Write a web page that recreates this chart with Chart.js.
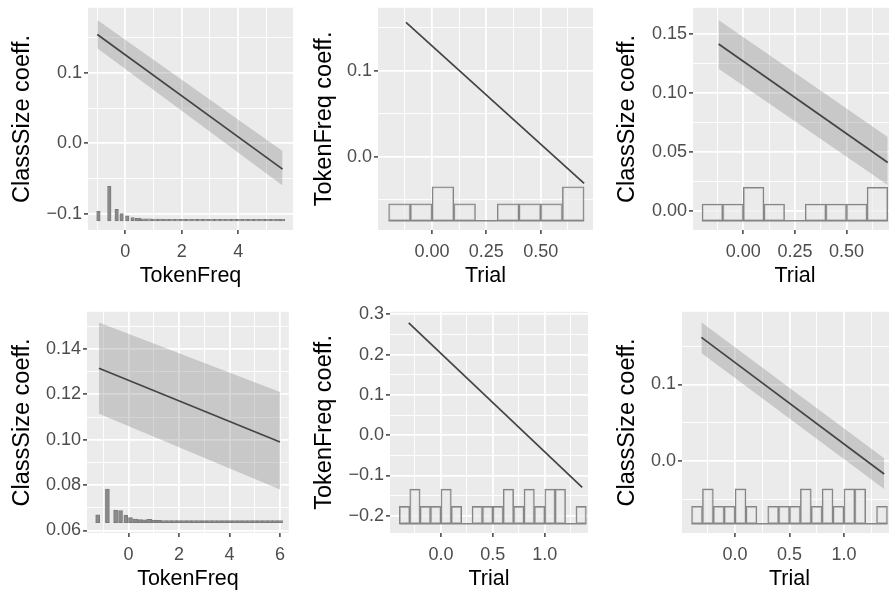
<!DOCTYPE html>
<html>
<head>
<meta charset="utf-8">
<script src="https://cdn.jsdelivr.net/npm/chart.js@4.4.1/dist/chart.umd.min.js"></script>
<style>
  html, body { margin: 0; padding: 0; background: #fff; overflow: hidden; width: 889px; height: 591px; }
  canvas { position: absolute; }
</style>
</head>
<body>
<canvas id="p1"></canvas>
<canvas id="p2"></canvas>
<canvas id="p3"></canvas>
<canvas id="p4"></canvas>
<canvas id="p5"></canvas>
<canvas id="p6"></canvas>
<script>
// ---- data ----

// panel 1: ClassSize coeff. by TokenFreq
const p1LineX = [-0.99, 5.57];
const p1Fit = [0.1545, -0.0366];
const p1Upper = [0.175, -0.011];
const p1Lower = [0.135, -0.060];
const p1HeadX = [-0.95, -0.565, -0.305, -0.13, 0.07, 0.26];
const p1HeadH = [13.7, 49, 16.5, 10.3, 7, 4.7];
const p1TailX = [0.45, 0.65, 0.85, 1.05, 1.25, 1.45, 1.65, 1.85, 2.05, 2.25, 2.45, 2.65, 2.85,
                 3.05, 3.25, 3.45, 3.65, 3.85, 4.05, 4.25, 4.45, 4.65, 4.85, 5.05, 5.25, 5.45, 5.55];
const p1TailH = [3.5, 3, 2.8, 2.6, 2.5, 2.3, 2.2, 2.2, 2.1, 2, 2, 2, 2, 2, 2, 2, 2, 2, 2, 2, 2, 2, 2, 2, 2, 2, 2];

// panel 2: TokenFreq coeff. by Trial
const p2LineX = [-0.12, 0.70];
const p2Fit = [0.1563, -0.0308];

// panel 3: ClassSize coeff. by Trial
const p3LineX = [-0.12, 0.70];
const p3Fit = [0.1415, 0.041];
const p3Upper = [0.1618, 0.0627];
const p3Lower = [0.1204, 0.0218];

// Trial histogram, top row (bin centres, counts)
const trialBinsTop = [-0.15, -0.05, 0.05, 0.15, 0.25, 0.35, 0.45, 0.55, 0.65];
const trialCountsTop = [1, 1, 2, 1, 0, 1, 1, 1, 2];

// panel 4: ClassSize coeff. by TokenFreq
const p4LineX = [-1.17, 6.0];
const p4Fit = [0.1315, 0.099];
const p4Upper = [0.1517, 0.121];
const p4Lower = [0.1115, 0.0781];
const p4HeadX = [-1.22, -0.835, -0.51, -0.315, -0.105, 0.08];
const p4HeadH = [3.4, 14.8, 5.4, 5.3, 3.2, 2.2];
const p4TailX = [0.27, 0.45, 0.63, 0.82, 1.0, 1.2, 1.4, 1.6, 1.8, 2.0, 2.2, 2.4, 2.6, 2.8, 3.0,
                 3.2, 3.4, 3.6, 3.8, 4.0, 4.2, 4.4, 4.6, 4.8, 5.0, 5.2, 5.4, 5.6, 5.8, 6.0];
const p4TailH = [1.5, 1.3, 1.2, 1.4, 1.1, 1.0, 0.9, 0.9, 0.9, 0.9, 0.9, 0.9, 0.9, 0.9, 0.9,
                 0.9, 0.9, 0.9, 0.9, 0.9, 0.9, 0.9, 0.9, 0.9, 0.9, 0.9, 0.9, 0.9, 0.9, 0.9];

// panel 5: TokenFreq coeff. by Trial
const p5LineX = [-0.31, 1.36];
const p5Fit = [0.2785, -0.1297];

// panel 6: ClassSize coeff. by Trial
const p6LineX = [-0.31, 1.37];
const p6Fit = [0.1614, -0.0169];
const p6Upper = [0.181, 0.0035];
const p6Lower = [0.141, -0.0364];

// Trial histogram, bottom row
const trialBinsBot = [-0.35, -0.25, -0.15, -0.05, 0.05, 0.15, 0.25, 0.35, 0.45,
                      0.55, 0.65, 0.75, 0.85, 0.95, 1.05, 1.15, 1.25, 1.35];
const trialCountsBot = [1, 2, 1, 1, 2, 1, 0, 1, 1, 1, 2, 1, 2, 1, 2, 2, 0, 1];

// tick values and labels
const tfTicks = [0, 2, 4];            const tfLabels = ['0', '2', '4'];
const tfTicks6 = [0, 2, 4, 6];        const tfLabels6 = ['0', '2', '4', '6'];
const trTicksTop = [0, 0.25, 0.5];    const trLabelsTop = ['0.00', '0.25', '0.50'];
const trTicksBot = [0, 0.5, 1];       const trLabelsBot = ['0.0', '0.5', '1.0'];
const y1Ticks = [-0.1, 0, 0.1];       const y1Labels = ['\u22120.1', '0.0', '0.1'];
const y2Ticks = [0, 0.1];             const y2Labels = ['0.0', '0.1'];
const y3Ticks = [0, 0.05, 0.1, 0.15]; const y3Labels = ['0.00', '0.05', '0.10', '0.15'];
const y4Ticks = [0.06, 0.08, 0.1, 0.12, 0.14];
const y4Labels = ['0.06', '0.08', '0.10', '0.12', '0.14'];
const y5Ticks = [-0.2, -0.1, 0, 0.1, 0.2, 0.3];
const y5Labels = ['\u22120.2', '\u22120.1', '0.0', '0.1', '0.2', '0.3'];
const y6Ticks = [0, 0.1];             const y6Labels = ['0.0', '0.1'];

// ---- styling ----
const FONT = "'Liberation Sans', Arial, Helvetica, sans-serif";
const TICK_SIZE = 18;
const XTITLE_SIZE = 21.5;
const YTITLE_SIZE = 23.5;
const PANEL_BG = '#EBEBEB';
const LINE_COL = '#444444';
const RIBBON_COL = 'rgba(120,120,120,0.30)';
const HIST_COL = '#858585';
const PAD_TOP = 12;
const X_AXIS_H = 59;

Chart.defaults.font.family = FONT;

// paint the grey panel behind everything
const panelBg = {
  id: 'panelBg',
  beforeDraw(chart) {
    const a = chart.chartArea;
    const ctx = chart.ctx;
    ctx.save();
    ctx.fillStyle = PANEL_BG;
    ctx.fillRect(a.left, a.top, a.right - a.left, a.bottom - a.top);
    ctx.restore();
  }
};

// majors plus ggplot-style minor breaks half way between
function withMinors(majors, min, max) {
  const step = majors[1] - majors[0];
  const all = [];
  for (let v = majors[0] - step * Math.ceil((majors[0] - min) / step); v <= max + 1e-9; v += step / 2) {
    if (v >= min - 1e-9) all.push(+v.toFixed(6));
  }
  return all;
}

function isMajor(majors, v) {
  return majors.some(m => Math.abs(m - v) < 1e-6);
}

function axis(min, max, majors, labels, title, titleSize, pad, fit) {
  const all = withMinors(majors, min, max);
  return {
    type: 'linear',
    min: min,
    max: max,
    offset: false,
    afterFit: fit,
    afterBuildTicks: s => { s.ticks = all.map(v => ({ value: v })); },
    ticks: {
      autoSkip: false,
      maxRotation: 0,
      padding: pad,
      color: '#4D4D4D',
      font: { size: TICK_SIZE },
      callback: v => {
        const i = majors.findIndex(m => Math.abs(m - v) < 1e-6);
        return i >= 0 ? labels[i] : '';
      }
    },
    grid: {
      color: '#FFFFFF',
      offset: false,
      lineWidth: c => (c.tick && isMajor(majors, c.tick.value)) ? 1.8 : 0.9,
      drawTicks: true,
      tickLength: 4,
      tickWidth: 1.4,
      tickColor: c => (c.tick && isMajor(majors, c.tick.value)) ? '#333333' : 'rgba(0,0,0,0)'
    },
    border: { display: false },
    title: { display: true, text: title, color: '#000000', font: { size: titleSize }, padding: 0 }
  };
}

function pts(xs, ys) {
  return xs.map((x, i) => ({ x: x, y: ys[i] }));
}

function lineSet(xs, ys) {
  return { type: 'line', data: pts(xs, ys), borderColor: LINE_COL, borderWidth: 1.7,
           pointRadius: 0, fill: false, order: 0 };
}

function ribbonSets(xs, up, lo) {
  return [
    { type: 'line', data: pts(xs, up), borderWidth: 0, pointRadius: 0,
      backgroundColor: RIBBON_COL, fill: '+1', order: 3 },
    { type: 'line', data: pts(xs, lo), borderWidth: 0, pointRadius: 0, fill: false, order: 3 }
  ];
}

// outlined Trial histogram plus its baseline
function trialHist(bins, counts, base, unit) {
  const w = bins[1] - bins[0];
  return [
    { type: 'bar', data: bins.map((c, i) => ({ x: c, y: [base, base + counts[i] * unit] })),
      backgroundColor: 'rgba(235,235,235,0.7)', borderColor: HIST_COL, borderWidth: 1.3,
      borderSkipped: false, barPercentage: 1, categoryPercentage: 1, grouped: false, order: 1 },
    { type: 'line', data: [{ x: bins[0] - w / 2, y: base }, { x: bins[bins.length - 1] + w / 2, y: base }],
      borderColor: HIST_COL, borderWidth: 1.6, pointRadius: 0, fill: false, order: 1 }
  ];
}

// filled TokenFreq histogram (heights in thousandths of the y unit)
function freqHist(xs, hs, base, thick) {
  return { type: 'bar', data: xs.map((x, i) => ({ x: x, y: [base, base + hs[i] * 0.001] })),
           backgroundColor: '#8A8A8A', borderColor: '#7A7A7A', borderWidth: 1,
           borderSkipped: false, barThickness: thick, grouped: false, order: 1 };
}

function makePanel(id, box, spec) {
  const cv = document.getElementById(id);
  const left = box.canvasLeft;
  const top = box.plotT - PAD_TOP;
  const w = box.plotR - left;
  const h = box.plotB + X_AXIS_H - top;
  cv.width = w; cv.height = h;
  cv.style.left = left + 'px'; cv.style.top = top + 'px';
  cv.style.width = w + 'px'; cv.style.height = h + 'px';
  const yW = box.plotL - left;
  new Chart(cv, {
    type: 'line',
    data: { datasets: spec.datasets },
    options: {
      responsive: false,
      animation: false,
      events: [],
      devicePixelRatio: 1,
      layout: { padding: { left: 0, top: PAD_TOP, right: 0, bottom: 0 } },
      plugins: { legend: { display: false }, tooltip: { enabled: false } },
      scales: {
        x: axis(spec.x[0], spec.x[1], spec.xTicks, spec.xLabels, spec.xTitle, XTITLE_SIZE, 7,
                s => { s.height = X_AXIS_H; }),
        y: axis(spec.y[0], spec.y[1], spec.yTicks, spec.yLabels, spec.yTitle, YTITLE_SIZE, 2,
                s => { s.width = yW; })
      }
    },
    plugins: [panelBg]
  });
}

// ---- panels ----
makePanel('p1', { canvasLeft: 8, plotL: 88, plotT: 7, plotR: 293, plotB: 230 }, {
  x: [-1.32, 5.94], y: [-0.123, 0.1923],
  xTicks: tfTicks, xLabels: tfLabels, yTicks: y1Ticks, yLabels: y1Labels,
  xTitle: 'TokenFreq', yTitle: 'ClassSize coeff.',
  datasets: [lineSet(p1LineX, p1Fit), ...ribbonSets(p1LineX, p1Upper, p1Lower),
             freqHist(p1HeadX, p1HeadH, -0.110, 3.5), freqHist(p1TailX, p1TailH, -0.110, 5.5)]
});

makePanel('p2', { canvasLeft: 310, plotL: 378, plotT: 7, plotR: 593, plotB: 230 }, {
  x: [-0.249, 0.741], y: [-0.0849, 0.1733],
  xTicks: trTicksTop, xLabels: trLabelsTop, yTicks: y2Ticks, yLabels: y2Labels,
  xTitle: 'Trial', yTitle: 'TokenFreq coeff.',
  datasets: [lineSet(p2LineX, p2Fit), ...trialHist(trialBinsTop, trialCountsTop, -0.0742, 0.0198)]
});

makePanel('p3', { canvasLeft: 613, plotL: 693, plotT: 7, plotR: 897, plotB: 230 }, {
  x: [-0.244, 0.745], y: [-0.0163, 0.1722],
  xTicks: trTicksTop, xLabels: trLabelsTop, yTicks: y3Ticks, yLabels: y3Labels,
  xTitle: 'Trial', yTitle: 'ClassSize coeff.',
  datasets: [lineSet(p3LineX, p3Fit), ...ribbonSets(p3LineX, p3Upper, p3Lower),
             ...trialHist(trialBinsTop, trialCountsTop, -0.0085, 0.0142)]
});

makePanel('p4', { canvasLeft: 8, plotL: 87, plotT: 311, plotR: 292, plotB: 533 }, {
  x: [-1.643, 6.35], y: [0.0589, 0.1564],
  xTicks: tfTicks6, xLabels: tfLabels6, yTicks: y4Ticks, yLabels: y4Labels,
  xTitle: 'TokenFreq', yTitle: 'ClassSize coeff.',
  datasets: [lineSet(p4LineX, p4Fit), ...ribbonSets(p4LineX, p4Upper, p4Lower),
             freqHist(p4HeadX, p4HeadH, 0.0635, 4), freqHist(p4TailX, p4TailH, 0.0635, 5.2)]
});

makePanel('p5', { canvasLeft: 310, plotL: 390, plotT: 311, plotR: 588, plotB: 533 }, {
  x: [-0.49, 1.416], y: [-0.2428, 0.3062],
  xTicks: trTicksBot, xLabels: trLabelsBot, yTicks: y5Ticks, yLabels: y5Labels,
  xTitle: 'Trial', yTitle: 'TokenFreq coeff.',
  datasets: [lineSet(p5LineX, p5Fit), ...trialHist(trialBinsBot, trialCountsBot, -0.2197, 0.0428)]
});

makePanel('p6', { canvasLeft: 613, plotL: 682, plotT: 311, plotR: 897, plotB: 533 }, {
  x: [-0.488, 1.488], y: [-0.0939, 0.1948],
  xTicks: trTicksBot, xLabels: trLabelsBot, yTicks: y6Ticks, yLabels: y6Labels,
  xTitle: 'Trial', yTitle: 'ClassSize coeff.',
  datasets: [lineSet(p6LineX, p6Fit), ...ribbonSets(p6LineX, p6Upper, p6Lower),
             ...trialHist(trialBinsBot, trialCountsBot, -0.0818, 0.0227)]
});
</script>
</body>
</html>
